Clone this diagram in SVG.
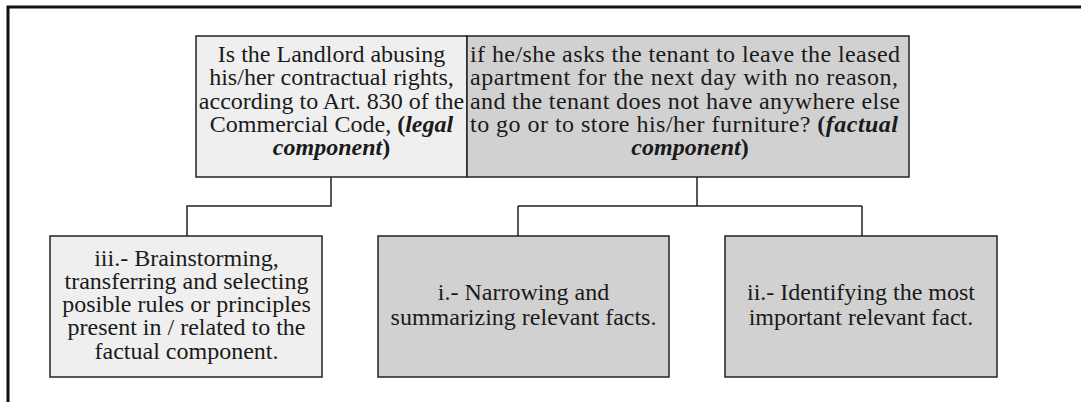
<svg xmlns="http://www.w3.org/2000/svg" width="1081" height="402" viewBox="0 0 1081 402">
<style>
.t{font-family:"Liberation Serif","Times New Roman",serif;font-size:24px;fill:#1a1a1a;text-anchor:middle}
.j{text-anchor:start}
.b{font-weight:bold}
.bi{font-weight:bold;font-style:italic}
.light{fill:#efefef;stroke:#222;stroke-width:1.5}
.dark{fill:#d2d1d1;stroke:#222;stroke-width:1.5}
.c{fill:none;stroke:#222;stroke-width:1.5}
</style>
<rect width="1081" height="402" fill="#fff"/>
<path d="M8 402 V7 H1081" fill="none" stroke="#111" stroke-width="3"/>
<g id="connectors">
<path class="c" d="M331 177 V206 H187 V236"/>
<path class="c" d="M697 177 V206 M518 206 H862 M518 206 V236 M862 206 V236"/>
</g>
<g id="legal">
<rect class="light" x="196" y="36" width="271" height="141"/>
<text class="t" x="331.5" y="62">Is the Landlord abusing</text>
<text class="t" x="331.5" y="85">his/her contractual rights,</text>
<text class="t" x="331.5" y="108.5">according to Art. 830 of the</text>
<text class="t" x="331.5" y="132">Commercial Code, <tspan class="b">(</tspan><tspan class="bi">legal</tspan></text>
<text class="t" x="331.5" y="155"><tspan class="bi">component</tspan><tspan class="b">)</tspan></text>
</g>
<g id="factual">
<rect class="dark" x="467" y="36" width="442" height="141"/>
<text class="t j" x="470" y="62" textLength="430" lengthAdjust="spacing">if he/she asks the tenant to leave the leased</text>
<text class="t j" x="470" y="85" textLength="428" lengthAdjust="spacing">apartment for the next day with no reason,</text>
<text class="t j" x="470" y="108.5" textLength="430" lengthAdjust="spacing">and the tenant does not have anywhere else</text>
<text class="t j" x="470" y="132" textLength="428" lengthAdjust="spacing">to go or to store his/her furniture? <tspan class="b">(</tspan><tspan class="bi">factual</tspan></text>
<text class="t" x="690" y="155"><tspan class="bi">component</tspan><tspan class="b">)</tspan></text>
</g>
<g id="step3">
<rect class="light" x="50" y="236" width="272" height="141"/>
<text class="t" x="186.5" y="265.5">iii.- Brainstorming,</text>
<text class="t" x="186.5" y="288.5">transferring and selecting</text>
<text class="t" x="186.5" y="312">posible rules or principles</text>
<text class="t" x="186.5" y="335">present in / related to the</text>
<text class="t" x="186.5" y="358.5">factual component.</text>
</g>
<g id="step1">
<rect class="dark" x="378" y="236" width="291" height="141"/>
<text class="t" x="523.5" y="300">i.- Narrowing and</text>
<text class="t" x="523.5" y="324.5">summarizing relevant facts.</text>
</g>
<g id="step2">
<rect class="dark" x="725" y="236" width="272" height="141"/>
<text class="t" x="861" y="300">ii.- Identifying the most</text>
<text class="t" x="861" y="324.5">important relevant fact.</text>
</g>
</svg>
